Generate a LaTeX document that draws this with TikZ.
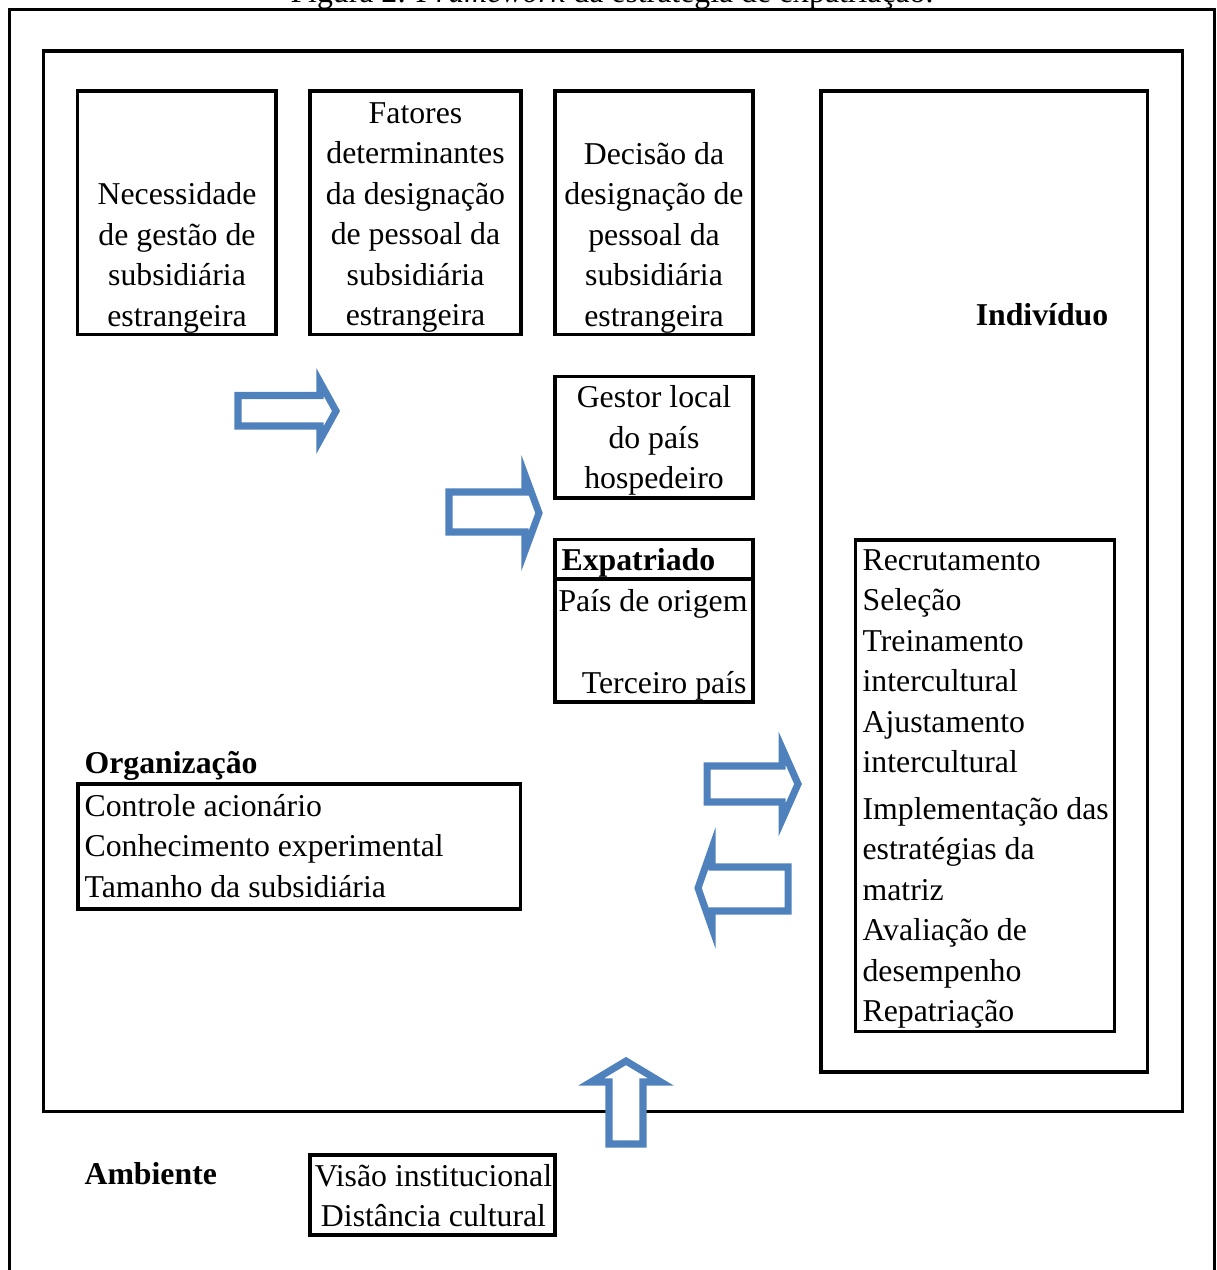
\documentclass[tikz,border=0pt]{standalone}
\usepackage{fontspec}
\setmainfont{Liberation Serif}
\usetikzlibrary{fit}
\definecolor{ArrowBlue}{HTML}{4F81BD}
\tikzset{
  framebox/.style={draw, line width=1.1pt, inner sep=0pt},
  bodytext/.style={font=\fontsize{11.3}{14.4}\selectfont, align=center, inner sep=0pt},
  headtext/.style={font=\fontsize{11.3}{14.4}\selectfont\bfseries, inner sep=0pt},
  blockarrow/.style={draw=ArrowBlue, fill=white, line width=2.5pt, line join=miter}
}

\begin{document}
\begin{tikzpicture}[x=0.0125cm, y=-0.0125cm]
  \useasboundingbox (0,0) rectangle (1216,1270);
  \clip (0,0) rectangle (1216,1270);

  % frames
  \node[framebox, fit={(9.5,9.5) (1214.5,1300)}] (outer) {};
  \node[framebox, fit={(43.5,51) (1182.5,1111.5)}] (inner) {};
  \node[bodytext, anchor=base] (title) at (612,3) {Figura 2: \textit{Framework} da estratégia de expatriação.};

  % top row
  \node[framebox, fit={(77.5,91) (276,334.5)}] (need) {};
  \node[bodytext] (needtxt) at (177,258) {Necessidade\\de gestão de\\subsidiária\\estrangeira};
  \node[framebox, fit={(310,91) (521,334.5)}] (factors) {};
  \node[bodytext] (factorstxt) at (415.5,217.5) {Fatores\\determinantes\\da designação\\de pessoal da\\subsidiária\\estrangeira};
  \node[framebox, fit={(555,91) (753,334.5)}] (decision) {};
  \node[bodytext] (decisiontxt) at (654,237.5) {Decisão da\\designação de\\pessoal da\\subsidiária\\estrangeira};

  % staff options
  \node[framebox, fit={(555,376.5) (753,498)}] (local) {};
  \node[bodytext] (localtxt) at (654,440.5) {Gestor local\\do país\\hospedeiro};
  \node[framebox, fit={(555,539.5) (753,579)}] (expathead) {};
  \node[framebox, fit={(555,579) (753,702)}] (expatbody) {};
  \node[headtext, anchor=west] (expattxt) at (561,563) {Expatriado};
  \node[bodytext, anchor=west] (hometxt) at (558,604) {País de origem};
  \node[bodytext, anchor=east] (thirdtxt) at (747,686) {Terceiro país};

  % individual
  \node[framebox, fit={(821,91) (1147.5,1072)}] (indiv) {};
  \node[headtext] (indivtxt) at (1042,315) {Indivíduo};
  \node[framebox, fit={(855.5,540) (1114.5,1031.5)}] (tasks) {};
  \node[bodytext, align=left, anchor=west] (taskstxt) at (862,789) {Recrutamento\\Seleção\\Treinamento\\intercultural\\Ajustamento\\intercultural\\[2pt]Implementação das\\estratégias da\\matriz\\Avaliação de\\desempenho\\Repatriação};

  % organization
  \node[headtext, anchor=west] (orgtxt) at (84,766) {Organização};
  \node[framebox, fit={(78,784) (520.5,909)}] (org) {};
  \node[bodytext, align=left, anchor=west] (orglist) at (84,846) {Controle acionário\\Conhecimento experimental\\Tamanho da subsidiária};

  % environment
  \node[headtext, anchor=west] (envtxt) at (84,1174) {Ambiente};
  \node[framebox, fit={(310,1155) (555,1235)}] (env) {};
  \node[bodytext] (envlist) at (433.5,1195.5) {Visão institucional\\Distância cultural};

  % block arrows
  \draw[blockarrow] (238,395.5) -- (320,395.5) -- (320,382) -- (336,411) -- (320,440) -- (320,426) -- (238,426) -- cycle;
  \draw[blockarrow] (449,492) -- (525,492) -- (525,475) -- (539,513) -- (525,551) -- (525,532) -- (449,532) -- cycle;
  \draw[blockarrow] (707,766) -- (782,766) -- (782,748) -- (798,784) -- (782,820) -- (782,802) -- (707,802) -- cycle;
  \draw[blockarrow] (788,867) -- (712,867) -- (712,848) -- (698,888) -- (712,928) -- (712,911) -- (788,911) -- cycle;
  \draw[blockarrow] (609,1144) -- (609,1082) -- (591,1082) -- (626,1061) -- (661,1082) -- (643,1082) -- (643,1144) -- cycle;
\end{tikzpicture}
\end{document}
